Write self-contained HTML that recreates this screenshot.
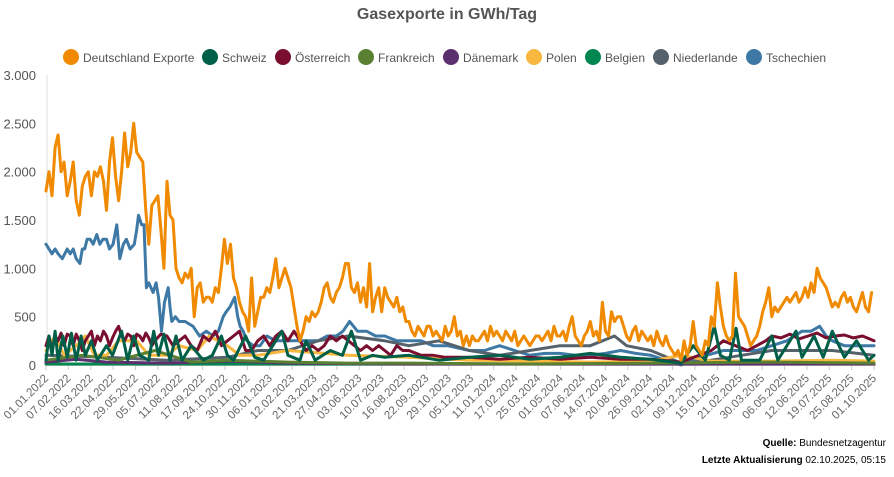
<!DOCTYPE html>
<html><head><meta charset="utf-8">
<style>
html,body{margin:0;padding:0;background:#fff;}
body{width:894px;height:472px;overflow:hidden;font-family:"Liberation Sans",sans-serif;}
svg text{font-family:"Liberation Sans",sans-serif;}
</style></head>
<body>
<svg id="chart" width="894" height="472" viewBox="0 0 894 472" xmlns="http://www.w3.org/2000/svg">
<text x="447" y="19" text-anchor="middle" font-size="16" font-weight="bold" fill="#555">Gasexporte in GWh/Tag</text>
<g id="legend"></g>
<g id="yaxis"></g>
<g id="xaxis"></g>
<g id="plot"></g>
<text x="886" y="446" text-anchor="end" font-size="10" fill="#000" style="font-family:'Liberation Sans Narrow','Liberation Sans',sans-serif"><tspan font-weight="bold">Quelle:</tspan> Bundesnetzagentur</text>
<text x="886" y="463" text-anchor="end" font-size="10" fill="#000" style="font-family:'Liberation Sans Narrow','Liberation Sans',sans-serif"><tspan font-weight="bold">Letzte Aktualisierung</tspan> 02.10.2025, 05:15</text>
</svg>
<script>
const seriesNames = ["Deutschland Exporte","Schweiz","Österreich","Frankreich","Dänemark","Polen","Belgien","Niederlande","Tschechien"];
const seriesColors = ["#f08a00","#005f48","#7a0e2e","#5a8032","#5c2f6e","#f8b73e","#00874f","#56626b","#3e79a6"];
const yTicks = [0,500,1000,1500,2000,2500,3000];
const yTickLabels = ["0","500","1.000","1.500","2.000","2.500","3.000"];
const xTickLabels = ["01.01.2022","07.02.2022","16.03.2022","22.04.2022","29.05.2022","05.07.2022","11.08.2022","17.09.2022","24.10.2022","30.11.2022","06.01.2023","12.02.2023","21.03.2023","27.04.2023","03.06.2023","10.07.2023","16.08.2023","22.09.2023","29.10.2023","05.12.2023","11.01.2024","17.02.2024","25.03.2024","01.05.2024","07.06.2024","14.07.2024","20.08.2024","26.09.2024","02.11.2024","09.12.2024","15.01.2025","21.02.2025","30.03.2025","06.05.2025","12.06.2025","19.07.2025","25.08.2025","01.10.2025"];
const xTickStepDays = 37;

// Deutschland Exporte: one value every 5 days starting 01.01.2022
const deStepDays = 5;
const deValues = [
1800,2000,1750,2250,2380,2000,2100,1750,1900,2100,
1700,1550,1850,1950,2000,1750,2000,1950,2050,1900,
1600,2100,2350,1950,1700,2000,2400,2050,2200,2500,
2200,2150,2100,1600,1250,1650,1700,1750,1400,1000,
1900,1550,1500,1000,900,850,950,900,1000,500,
800,850,650,700,700,650,800,750,1000,1300,
1050,1250,900,800,650,550,500,350,900,400,
550,700,700,800,750,900,1100,800,900,1000,
900,800,600,400,250,350,500,450,550,500,
550,650,800,850,700,650,750,800,900,1050,
1050,800,750,850,650,800,600,1050,550,700,
800,550,800,700,650,600,700,550,600,450,
450,350,300,400,350,300,400,400,300,350,
300,250,400,300,350,500,300,350,200,300,
200,300,250,250,300,350,250,400,300,350,
300,250,350,300,250,350,200,250,300,250,
200,250,300,300,250,300,350,250,400,300,
300,350,250,400,500,300,250,200,300,350,
450,300,350,250,650,350,300,550,450,500,
500,400,300,250,350,400,250,350,300,250,
300,200,350,250,200,300,200,150,100,150,
50,250,100,200,450,200,150,100,250,200,
500,400,850,600,400,300,250,300,950,500,
450,400,300,200,250,300,400,550,650,800,
500,600,550,600,650,700,650,700,750,650,
700,800,700,850,750,1000,900,850,800,700,
600,650,600,700,750,650,700,600,550,650,
750,600,550,750];

const chDays = [0,5,10,15,20,27,35,40,45,50,56,60,64,68,73,78,84,89,94,100,105,111,114,117,122,128,133,139,146,150,153,158,162,166,170,177,182,186,191,196,202,205,208,214,220,230,243,254,265,276,285,293,298,304,308,312,317,321,326,332,343,354,365,380,400,420,450,465,480,491,502,515,530,545,560,580,600,620,640,664,700,725,750,775,800,825,850,875,900,925,950,975,1000,1025,1050,1070,1092,1120,1150,1175,1200,1225,1250,1265,1279,1290,1300,1320,1340,1369];
const chValues = [1250,1200,1150,1200,1150,1100,1200,1150,1200,1100,1050,1200,1200,1300,1300,1250,1350,1250,1300,1300,1200,1250,1350,1450,1100,1250,1300,1200,1250,1400,1550,1450,1450,800,850,750,850,700,350,650,800,600,450,500,450,450,400,300,350,300,350,500,550,600,650,700,500,400,350,250,200,200,300,250,250,250,250,300,300,350,450,350,350,300,300,250,250,250,200,200,150,150,200,150,100,120,120,100,100,120,150,120,100,50,0,50,100,150,150,150,200,250,350,350,400,300,250,200,200,200];

const atDays = [0,5,10,15,20,25,30,35,40,45,50,55,60,65,70,75,80,85,90,95,100,105,110,115,120,125,130,135,140,145,150,155,160,165,170,175,180,190,200,210,220,230,240,250,260,270,280,290,300,310,320,330,340,350,360,370,380,390,400,410,420,430,440,450,460,470,480,490,500,510,520,530,540,550,560,570,580,590,600,620,640,660,700,750,800,850,900,950,1000,1050,1100,1120,1140,1160,1175,1190,1200,1215,1230,1245,1260,1275,1290,1305,1320,1335,1350,1369];
const atValues = [200,300,150,300,250,330,200,320,300,200,320,250,150,250,300,350,200,300,250,350,300,200,280,350,400,300,250,320,300,200,320,300,250,330,280,200,250,320,300,200,250,300,200,150,300,250,350,200,250,300,350,150,150,250,300,200,300,350,250,350,250,150,200,150,200,300,250,300,250,200,150,200,150,200,150,100,200,150,150,100,100,80,80,60,80,60,80,60,60,30,150,250,200,150,200,250,300,280,320,270,300,330,280,300,310,280,300,250];

const swDays = [0,5,10,15,20,28,35,42,50,58,65,75,85,100,110,125,135,145,155,170,178,186,195,205,215,225,240,260,275,290,300,310,330,345,360,380,390,400,420,430,445,470,490,505,520,540,560,600,650,700,750,800,850,900,950,1000,1050,1070,1090,1105,1115,1130,1141,1150,1180,1200,1210,1240,1250,1270,1285,1300,1320,1340,1360,1369];
const swValues = [50,300,100,350,50,300,80,330,50,300,100,250,50,200,100,350,50,300,100,50,350,100,320,50,300,50,200,50,100,300,100,50,300,80,50,250,350,100,50,250,50,150,100,350,50,100,80,100,50,80,100,60,80,120,80,60,20,200,50,400,100,50,380,50,50,300,50,350,80,300,80,350,80,250,50,100];

const nlDays = [0,100,200,300,350,400,450,500,560,600,650,700,750,800,850,900,940,960,1000,1050,1100,1150,1200,1250,1300,1369];
const nlValues = [100,80,50,80,150,150,250,300,250,200,250,150,100,150,200,200,300,200,150,20,50,100,150,150,150,100];

const plDays = [0,15,30,50,65,80,100,120,150,170,200,220,250,270,300,320,350,400,500,600,700,800,900,1000,1050,1100,1200,1300,1369];
const plValues = [150,300,100,200,300,100,100,250,250,100,100,200,150,300,200,100,100,150,100,80,50,40,30,40,100,40,40,50,40];

const frDays = [0,60,120,180,240,300,400,500,600,800,1000,1200,1369];
const frValues = [50,100,50,150,30,50,30,20,20,10,20,30,20];

const dkDays = [0,50,100,200,300,400,600,1369];
const dkValues = [30,60,30,20,40,20,10,10];

const beDays = [0,1369];
const beValues = [10,10];

const NS = "http://www.w3.org/2000/svg";
const X0 = 46, X1 = 874, Y0 = 365, Y1 = 75, DAYS = 1369, YMAX = 3000;
function xScale(d){ return X0 + (X1 - X0) * Math.min(d, DAYS) / DAYS; }
function yScale(v){ return Y0 - (Y0 - Y1) * v / YMAX; }
function mk(tag, attrs, parent){ const e = document.createElementNS(NS, tag); for (const k in attrs) e.setAttribute(k, attrs[k]); parent.appendChild(e); return e; }

const legend = document.getElementById('legend');
const legendX = [71,210,283,366,451,534,593,661,754];
seriesNames.forEach((n,i)=>{
  const g = mk('g',{},legend);
  
  
  mk('circle',{cx:legendX[i],cy:57,r:8,fill:seriesColors[i]},g);
  const t = mk('text',{x:legendX[i]+12,y:62,'font-size':12,fill:'#555'},g);
  t.textContent = n;
});

const yax = document.getElementById('yaxis');
const yl = mk('line',{x1:X0+1,y1:Y1,x2:X0+1,y2:Y0,stroke:'#ddd','stroke-width':1},yax);


yTicks.forEach((v,i)=>{
  const t = mk('text',{x:36,y:yScale(v)+5,'text-anchor':'end','font-size':13,fill:'#555'},yax);
  
  
  t.textContent = yTickLabels[i];
});

const xax = document.getElementById('xaxis');
const xl = mk('line',{x1:X0,y1:Y0+0.5,x2:X1+2,y2:Y0+0.5,stroke:'#ccc','stroke-width':1},xax);


xTickLabels.forEach((lab,i)=>{
  const x = xScale(i * xTickStepDays);
  const tk = mk('line',{x1:x,y1:Y0,x2:x,y2:Y0+5,stroke:'#ccc','stroke-width':1},xax);
  
  
  const t = mk('text',{x:x+3,y:Y0+14,'text-anchor':'end','font-size':11.5,fill:'#666',transform:`rotate(-45 ${x+3} ${Y0+14})`},xax);
  
  
  t.textContent = lab;
});

const deDays = deValues.map((v,i)=>i*deStepDays);
const plot = document.getElementById('plot');
const drawOrder = [
  [8, chDays, chValues, 'series-tschechien'],
  [7, nlDays, nlValues, 'series-niederlande'],
  [6, beDays, beValues, 'series-belgien'],
  [5, plDays, plValues, 'series-polen'],
  [4, dkDays, dkValues, 'series-daenemark'],
  [3, frDays, frValues, 'series-frankreich'],
  [2, atDays, atValues, 'series-oesterreich'],
  [1, swDays, swValues, 'series-schweiz'],
  [0, deDays, deValues, 'series-deutschland-exporte']
];
drawOrder.forEach(([ci, days, vals, name])=>{
  const d = days.map((dd,k)=>(k?'L':'M') + xScale(dd).toFixed(1) + ',' + yScale(vals[k]).toFixed(1)).join(' ');
  const p = mk('path',{d:d,fill:'none',stroke:seriesColors[ci],'stroke-width':3,'stroke-linejoin':'round','stroke-linecap':'round'},plot);
  
  
});
</script>
</body></html>
